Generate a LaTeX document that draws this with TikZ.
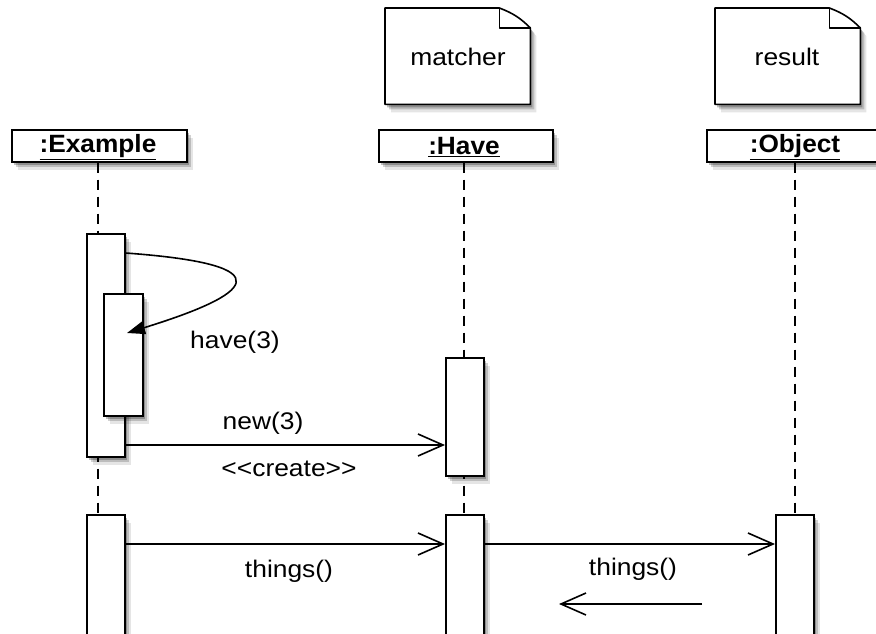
\documentclass[tikz,border=0pt]{standalone}
\usepackage{fontspec}
\setmainfont{Liberation Sans}
\newfontfamily\labfont{Liberation Sans}[FakeStretch=1.1]
\newfontfamily\headfont{Liberation Sans}[FakeStretch=1.05]
\usetikzlibrary{shadows,arrows.meta}
\tikzset{
  shad/.style={drop shadow={shadow xshift=6pt,shadow yshift=-8pt,opacity=0.10,fill=black},
               drop shadow={shadow xshift=4pt,shadow yshift=-5pt,opacity=0.18,fill=black},
               drop shadow={shadow xshift=2pt,shadow yshift=-3pt,opacity=0.25,fill=black}},
  header/.style={draw,line width=1.6pt,fill=white,shad,inner sep=0pt,anchor=north west},
  hlbl/.style={font=\headfont\bfseries\fontsize{25}{27}\selectfont,inner sep=0pt},
  act/.style={draw,line width=1.6pt,fill=white,shad,inner sep=0pt,anchor=north west},
  lbl/.style={font=\labfont\fontsize{24}{26}\selectfont,inner sep=0pt},
  life/.style={line width=1.6pt,dash pattern=on 10pt off 7pt},
  msg/.style={line width=1.6pt,-{Straight Barb[length=25pt,width=22pt,line width=1.6pt]}},
  self/.style={line width=1.6pt,-{Triangle[length=18pt,width=13pt]}},
  note/.style={line width=1.6pt,fill=white,line join=round,shad}
}
\begin{document}
\begin{tikzpicture}[x=1pt,y=-1pt]
\useasboundingbox (0,0) rectangle (876,633);
% notes
\node[minimum width=145pt,minimum height=96pt,inner sep=0pt,anchor=north west] (nm) at (385,8) {};
\node[minimum width=145pt,minimum height=96pt,inner sep=0pt,anchor=north west] (nr) at (715,8) {};
\draw[note] (nm.north west) -- ([xshift=-31pt]nm.north east) to[bend left=12] ([yshift=-20pt]nm.north east) -- (nm.south east) -- (nm.south west) -- cycle;
\draw[line width=1.6pt,line join=round] ([xshift=-31pt]nm.north east) -- ([xshift=-31pt,yshift=-20pt]nm.north east) -- ([yshift=-20pt]nm.north east);
\draw[note] (nr.north west) -- ([xshift=-31pt]nr.north east) to[bend left=12] ([yshift=-20pt]nr.north east) -- (nr.south east) -- (nr.south west) -- cycle;
\draw[line width=1.6pt,line join=round] ([xshift=-31pt]nr.north east) -- ([xshift=-31pt,yshift=-20pt]nr.north east) -- ([yshift=-20pt]nr.north east);
\node[lbl] (tm) at (458,57) {matcher};
\node[lbl] (tr) at (787,57) {result};
% headers
\node[header,minimum width=175pt,minimum height=32pt] (hE) at (11,129) {};
\node[header,minimum width=174pt,minimum height=32pt] (hH) at (378,129) {};
\node[header,minimum width=176pt,minimum height=32pt] (hO) at (706,129) {};
\node[hlbl] (lE) at (98,147) {\underline{:Example}};
\node[hlbl] (lH) at (464,147) {\underline{:Have}};
\node[hlbl] (lO) at (795,147) {\underline{:Object}};
% lifelines
\coordinate (bE) at (98,640);
\coordinate (bH) at (464,640);
\coordinate (bO) at (795,640);
\draw[life] (hE.south -| bE) -- (bE);
\draw[life] (hH.south -| bH) -- (bH);
\draw[life] (hO.south -| bO) -- (bO);
% activations
\node[act,minimum width=38pt,minimum height=223pt] (aE1) at (86,233) {};
\node[act,minimum width=39pt,minimum height=122pt] (aE2) at (103,293) {};
\node[act,minimum width=38pt,minimum height=118pt] (aH1) at (445,357) {};
\node[act,minimum width=38pt,minimum height=140pt] (aE3) at (86,514) {};
\node[act,minimum width=38pt,minimum height=140pt] (aH2) at (445,514) {};
\node[act,minimum width=38pt,minimum height=140pt] (aO1) at (775,514) {};
% self call
\coordinate (sTip) at (127,333);
\draw[self] (aE1.north east |- 0,253) .. controls (290,265) and (250,295) .. (sTip);
\node[lbl] (lhave) at (235,342) {have(3)};
% new(3)
\coordinate (yN) at (0,445);
\draw[msg] (aE1.east |- yN) -- (aH1.west |- yN);
\node[lbl] (lnew) at (263,423) {new(3)};
\node[lbl] (lcr) at (289,469) {<<create>>};
% things()
\coordinate (yT) at (0,544);
\draw[msg] (aE3.east |- yT) -- (aH2.west |- yT);
\draw[msg] (aH2.east |- yT) -- (aO1.west |- yT);
\node[lbl] (lt1) at (289,571) {things()};
\node[lbl] (lt2) at (633,569) {things()};
% return arrow
\coordinate (rS) at (702,604);
\coordinate (rE) at (559,604);
\draw[msg] (rS) -- (rE);
\end{tikzpicture}
\end{document}
